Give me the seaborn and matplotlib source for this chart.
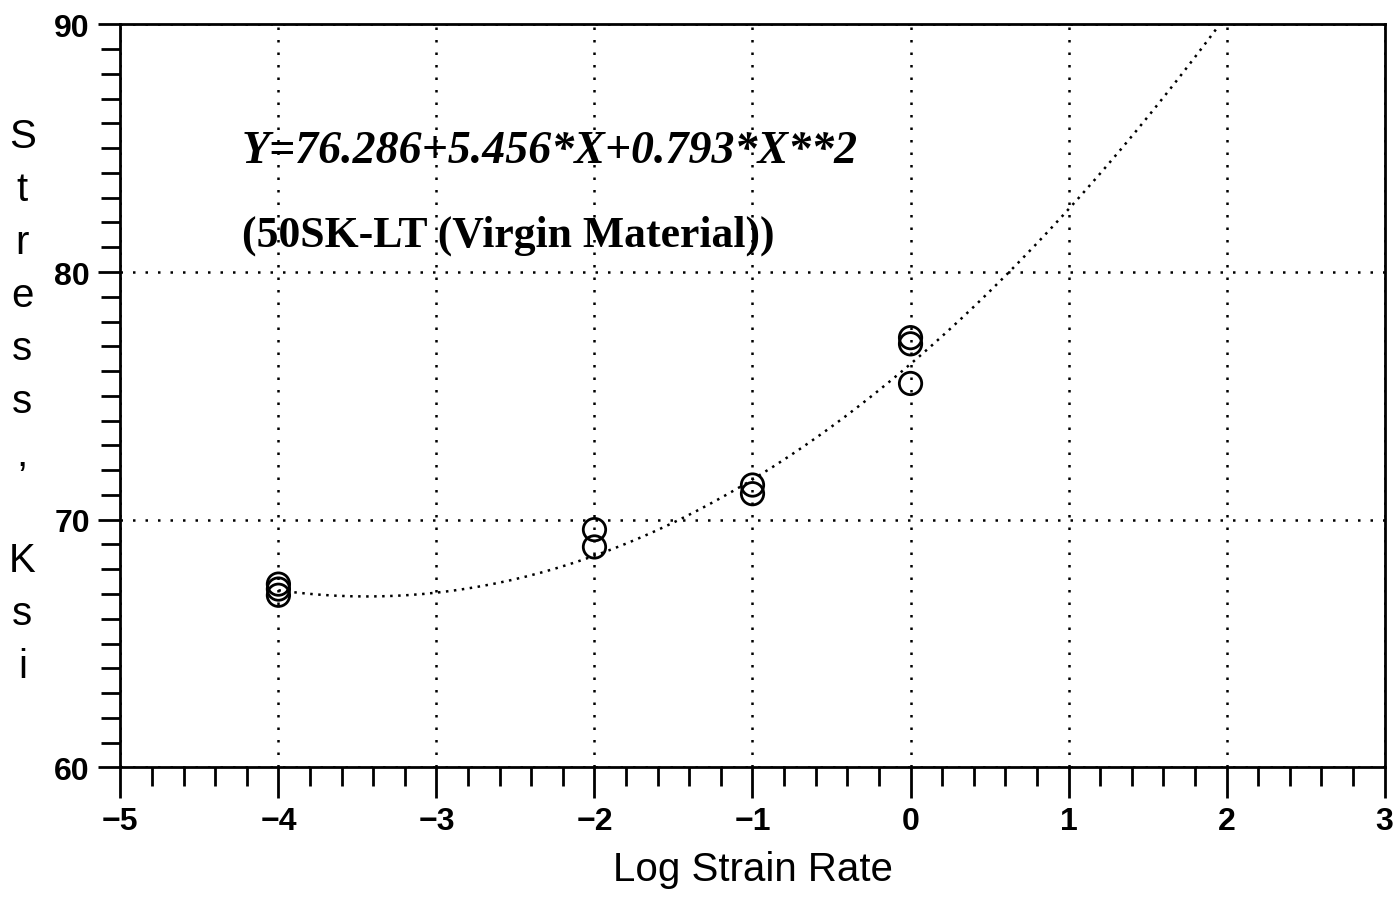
"""Stress vs log strain rate for 50SK-LT (virgin material), quadratic fit."""
import numpy as np
import pandas as pd
import seaborn as sns
import matplotlib.pyplot as plt
from matplotlib.ticker import MultipleLocator

log_rate = [-4, -4, -4, -2, -2, -1, -1, 0, 0, 0]
stress = [67.4, 67.2, 66.95, 69.6, 68.9, 71.4, 71.05, 77.35, 77.1, 75.5]

# Fit coefficients printed on the chart (c0 + c1*X + c2*X**2)
fit_coef = [76.286, 5.456, 0.793]
fit_x = np.linspace(-4, 2.1, 200)

eq_label = "Y=76.286+5.456*X+0.793*X**2"
material_label = "(50SK-LT (Virgin Material))"

sns.set_theme(style="white")
plt.rcParams['font.family'] = ['Liberation Sans', 'DejaVu Sans']
plt.rcParams.update({"text.color": "black", "axes.labelcolor": "black",
                     "xtick.color": "black", "ytick.color": "black"})

points = pd.DataFrame({"x": log_rate, "y": stress})
curve = pd.DataFrame({"x": fit_x,
                      "y": fit_coef[0] + fit_coef[1] * fit_x + fit_coef[2] * fit_x ** 2})

fig = plt.figure(figsize=(14, 9.04), dpi=100)
ax = fig.add_axes([0.086, 0.150, 0.903, 0.822])

# Fitted curve (dotted) and data circles
sns.lineplot(data=curve, x="x", y="y", ax=ax, color="black",
             linestyle=(0, (1, 2.2)), linewidth=1.8)
sns.scatterplot(data=points, x="x", y="y", ax=ax, marker="o", s=260,
                facecolors="none", edgecolor="black", linewidth=2.0, zorder=5)

ax.set_xlim(-5, 3)
ax.set_ylim(60, 90)
ax.xaxis.set_major_locator(MultipleLocator(1))
ax.xaxis.set_minor_locator(MultipleLocator(0.2))
ax.yaxis.set_major_locator(MultipleLocator(10))
ax.yaxis.set_minor_locator(MultipleLocator(1))

ax.tick_params(axis="x", which="major", direction="out", length=22, width=2,
               labelsize=23, pad=6, bottom=True)
ax.tick_params(axis="x", which="minor", direction="out", length=14, width=2,
               bottom=True)
ax.tick_params(axis="y", which="major", direction="out", length=16, width=2,
               labelsize=23, pad=6, left=True)
ax.tick_params(axis="y", which="minor", direction="out", length=14, width=2,
               left=True)
for lab in ax.get_xticklabels() + ax.get_yticklabels():
    lab.set_fontweight("bold")

ax.grid(True, which="major", color="black", linestyle=(0, (1, 4)), linewidth=1.8)
for side in ax.spines.values():
    side.set_color("black")
    side.set_linewidth(2)

ax.set_xlabel("Log Strain Rate", fontsize=29, labelpad=10)
ax.set_ylabel("")

# Stacked vertical y label
fig.text(0.016, 0.555, "\n".join("Stress, Ksi"), fontsize=29,
         ha="center", va="center", linespacing=1.5)

ax.text(-4.23, 84.9, eq_label, fontsize=33, fontweight="bold", fontstyle="italic",
        family=['Liberation Serif', 'DejaVu Serif'], va="center", ha="left")
ax.text(-4.23, 81.5, material_label, fontsize=31.5, fontweight="bold",
        family=['Liberation Serif', 'DejaVu Serif'], va="center", ha="left")

fig.savefig("out.png", dpi=100, facecolor="white")
plt.close(fig)
